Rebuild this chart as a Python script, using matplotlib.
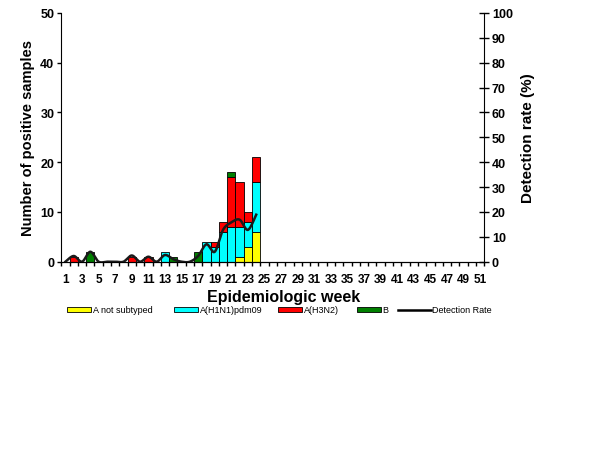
import numpy as np
import matplotlib.pyplot as plt
from matplotlib.patches import Patch
from matplotlib.lines import Line2D

plt.rcParams['font.family'] = ['Liberation Sans', 'DejaVu Sans']

weeks = np.arange(1, 52)

# counts per week (only non-zero weeks listed)
a_unsub = {22: 1, 23: 3, 24: 6}
h1n1 = {13: 2, 18: 4, 19: 3, 20: 6, 21: 7, 22: 6, 23: 5, 24: 10}
h3n2 = {2: 1, 9: 1, 11: 1, 19: 1, 20: 2, 21: 10, 22: 9, 23: 2, 24: 5}
flu_b = {4: 2, 14: 1, 17: 2, 21: 1}

# detection rate (%) weeks 1..24
rate_weeks = np.arange(1, 25)
rate = [0, 2.3, 0, 4, 0, 0, 0, 0, 2.5, 0, 2, 0, 2.7, 1, 0, 0, 2.3, 7, 4,
        12.8, 15.8, 16.9, 12.8, 18.9]

def to_arr(d):
    return np.array([d.get(w, 0) for w in weeks], dtype=float)

def smooth(x, y, n=20):
    # bezier smoothing like excel "smoothed line"
    pts = np.column_stack([np.asarray(x, float), np.asarray(y, float)])
    out = []
    for i in range(len(pts) - 1):
        p0 = pts[i - 1] if i > 0 else pts[i]
        p1 = pts[i]
        p2 = pts[i + 1]
        p3 = pts[i + 2] if i + 2 < len(pts) else pts[i + 1]
        c1 = p1 + (p2 - p0) / 6
        c2 = p2 - (p3 - p1) / 6
        t = np.linspace(0, 1, n)[:, None]
        seg = ((1 - t) ** 3) * p1 + 3 * ((1 - t) ** 2) * t * c1 + 3 * (1 - t) * t ** 2 * c2 + t ** 3 * p2
        out.append(seg if i == 0 else seg[1:])
    s = np.vstack(out)
    return s[:, 0], s[:, 1]

series = [
    ("A not subtyped", to_arr(a_unsub), "#FFFF00"),
    ("A(H1N1)pdm09", to_arr(h1n1), "#00FFFF"),
    ("A(H3N2)", to_arr(h3n2), "#FF0000"),
    ("B", to_arr(flu_b), "#008000"),
]

fig = plt.figure(figsize=(6.14, 4.6), dpi=100)
ax = fig.add_axes([61.3 / 614, 1 - 262.7 / 460, 423 / 614, (262.7 - 14) / 460])

bottom = np.zeros(len(weeks))
for name, vals, col in series:
    mask = vals > 0
    ax.bar(weeks[mask], vals[mask], bottom=bottom[mask], width=1.0, color=col,
           edgecolor="black", linewidth=0.6, zorder=2)
    bottom += vals

ax.set_xlim(0.5, 51.5)
ax.set_ylim(0, 50)
ax.set_yticks(range(0, 51, 10))
ax.tick_params(axis="y", direction="out", length=3, width=1, labelsize=9, pad=2)
for lb in ax.get_yticklabels():
    lb.set_fontweight("bold")

ax.set_xticks(np.arange(0.5, 52, 1))
ax.set_xticklabels([])
ax.tick_params(axis="x", which="major", direction="out", length=3, width=1)
ax.set_xticks(weeks[::2], minor=True)
ax.set_xticklabels([str(w) for w in weeks[::2]], minor=True, fontsize=8.5, fontweight="bold")
ax.tick_params(axis="x", which="minor", length=0, pad=8)

ax.spines["top"].set_visible(False)
ax.spines["right"].set_visible(False)
ax.set_ylabel("Number of positive samples", fontsize=10.5, fontweight="bold", labelpad=4)
ax.set_xlabel("Epidemiologic week", fontsize=11.5, fontweight="bold")
ax.xaxis.set_label_coords((283.5 - 61.3) / 423, -(302 - 262.7) / 248.7)
ax.xaxis.label.set_va("baseline")

ax2 = ax.twinx()
ax2.set_ylim(0, 100)
ax2.set_yticks(range(0, 101, 10))
ax2.tick_params(axis="y", direction="inout", length=7, width=1, labelsize=9, pad=2)
for lb in ax2.get_yticklabels():
    lb.set_fontweight("bold")
ax2.spines["top"].set_visible(False)
ax2.spines["left"].set_visible(False)
ax2.set_ylabel("Detection rate (%)", fontsize=11, fontweight="bold", labelpad=6)

sx, sy = smooth(rate_weeks, rate)
ax2.plot(sx, sy, color="#1a1a1a", linewidth=1.8, zorder=3)

# legend entries placed one by one like the excel legend
handles = [Patch(facecolor=c, edgecolor="black", linewidth=0.6) for _, _, c in series]
handles.append(Line2D([0], [0], color="black", linewidth=1.8))
labels = [s[0] for s in series] + ["Detection Rate"]
starts = [67, 174, 278, 357, 398]
for h, lab, x0 in zip(handles, labels, starts):
    hl = 3.6 if isinstance(h, Line2D) else 2.7
    fig.legend([h], [lab], loc="center left", bbox_to_anchor=(x0 / 614, 1 - 311 / 460),
               frameon=False, fontsize=6.5, handlelength=hl, handleheight=0.55,
               handletextpad=0.15, borderpad=0, borderaxespad=0)

fig.savefig("out.png", dpi=100)
